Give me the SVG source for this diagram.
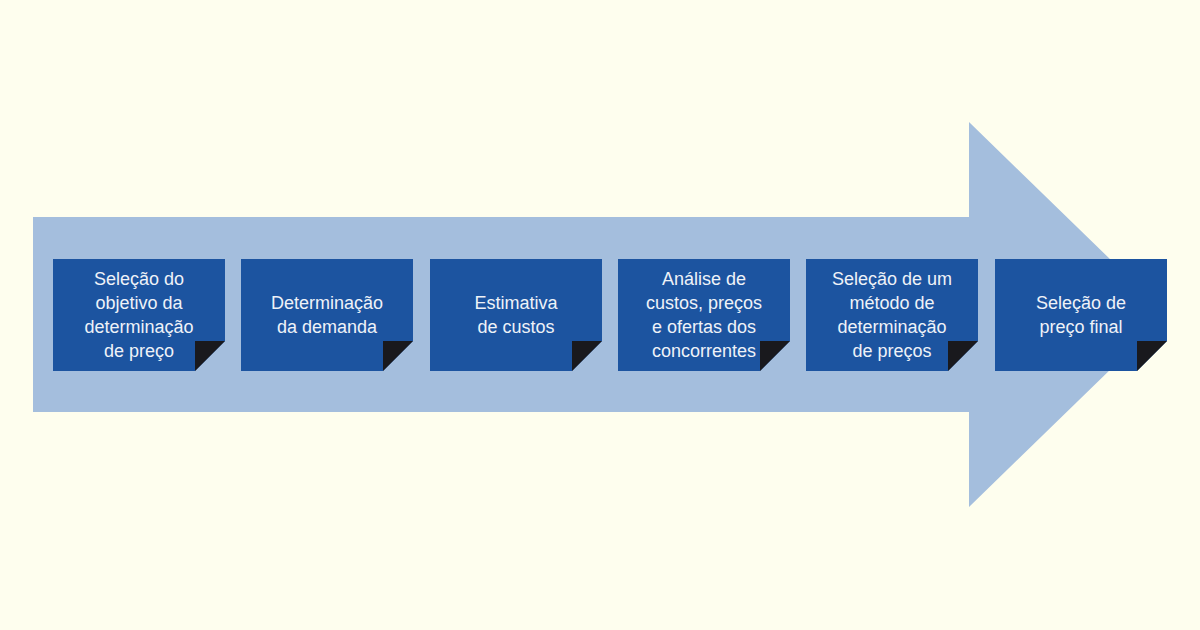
<svg xmlns="http://www.w3.org/2000/svg" width="1200" height="630" viewBox="0 0 1200 630">
<style>
.box{fill:#1C54A0}
.fold{fill:#19191D}
.t{font-family:"Liberation Sans",Arial,sans-serif;font-size:18px;fill:#EEF2F8;text-anchor:middle}
</style>
<defs>
<g id="card">
<path class="box" d="M0 0H172V82L142 112H0Z"/>
<path class="fold" d="M142 82H172L142 112Z"/>
</g>
</defs>
<rect width="1200" height="630" fill="#FEFEEE"/>
<g id="arrow">
<polygon points="33,217 969,217 969,122 1167,314.5 969,507 969,412 33,412" fill="#A4BEDD"/>
</g>
<g id="connectors"></g>
<g id="n1">
<use href="#card" x="53" y="259"/>
<text class="t"><tspan x="139" y="285">Seleção do</tspan><tspan x="139" y="309">objetivo da</tspan><tspan x="139" y="333">determinação</tspan><tspan x="139" y="357">de preço</tspan></text>
</g>
<g id="n2">
<use href="#card" x="241" y="259"/>
<text class="t"><tspan x="327" y="309">Determinação</tspan><tspan x="327" y="333">da demanda</tspan></text>
</g>
<g id="n3">
<use href="#card" x="430" y="259"/>
<text class="t"><tspan x="516" y="309">Estimativa</tspan><tspan x="516" y="333">de custos</tspan></text>
</g>
<g id="n4">
<use href="#card" x="618" y="259"/>
<text class="t"><tspan x="704" y="285">Análise de</tspan><tspan x="704" y="309">custos, preços</tspan><tspan x="704" y="333">e ofertas dos</tspan><tspan x="704" y="357">concorrentes</tspan></text>
</g>
<g id="n5">
<use href="#card" x="806" y="259"/>
<text class="t"><tspan x="892" y="285">Seleção de um</tspan><tspan x="892" y="309">método de</tspan><tspan x="892" y="333">determinação</tspan><tspan x="892" y="357">de preços</tspan></text>
</g>
<g id="n6">
<use href="#card" x="995" y="259"/>
<text class="t"><tspan x="1081" y="309">Seleção de</tspan><tspan x="1081" y="333">preço final</tspan></text>
</g>
</svg>
